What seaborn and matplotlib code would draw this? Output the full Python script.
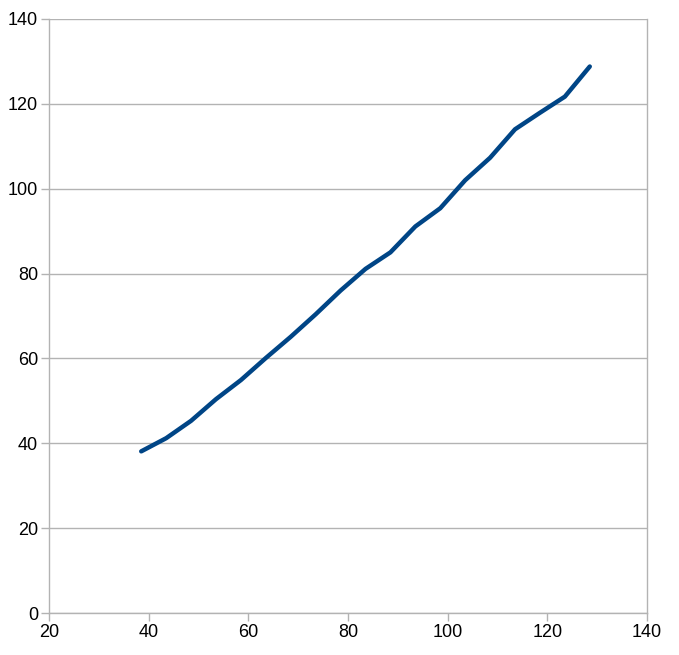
import matplotlib
matplotlib.use("Agg")
import matplotlib.pyplot as plt
import seaborn as sns
import pandas as pd

# data
x_vals = [38.5, 43.5, 48.5, 53.5, 58.5, 63.5, 68.5, 73.5, 78.5, 83.5,
          88.5, 93.5, 98.5, 103.5, 108.5, 113.5, 118.5, 123.5, 128.5]
y_vals = [38.1, 41.2, 45.3, 50.4, 54.9, 60.1, 65.1, 70.4, 76.0, 81.1,
          85.0, 91.1, 95.4, 102.0, 107.3, 114.0, 117.9, 121.7, 128.8]
x_ticks = [20, 40, 60, 80, 100, 120, 140]
y_ticks = [0, 20, 40, 60, 80, 100, 120, 140]

df = pd.DataFrame({"x": x_vals, "y": y_vals})

sns.set_style("white")
plt.rcParams["font.family"] = ["Liberation Sans", "DejaVu Sans"]

fig = plt.figure(figsize=(6.79, 6.55), dpi=100)
ax = fig.add_axes([0.0722, 0.0641, 0.8808, 0.9069])

sns.lineplot(data=df, x="x", y="y", ax=ax, color="#004586", linewidth=3.2)

ax.set_xlim(20, 140)
ax.set_ylim(0, 140)
ax.set_xticks(x_ticks)
ax.set_yticks(y_ticks)
ax.set_xlabel("")
ax.set_ylabel("")

ax.grid(axis="y", color="#b3b3b3", linewidth=1)
ax.set_axisbelow(True)
for side in ["left", "bottom", "right"]:
    ax.spines[side].set_color("#b3b3b3")
    ax.spines[side].set_linewidth(1)
ax.spines["top"].set_visible(False)

ax.tick_params(axis="both", which="both", length=6, width=1, color="#b3b3b3",
               labelsize=13, labelcolor="black", direction="out", pad=2)
ax.tick_params(axis="x", bottom=True)
ax.tick_params(axis="y", left=True)

fig.savefig("out.png", dpi=100)
